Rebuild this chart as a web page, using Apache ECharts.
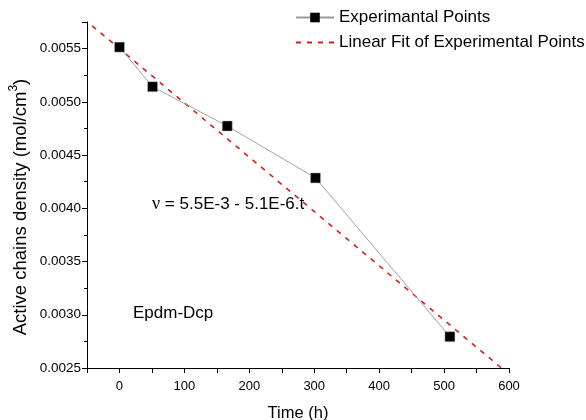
<!DOCTYPE html>
<html>
<head>
<meta charset="utf-8">
<script src="https://cdn.jsdelivr.net/npm/echarts@6/dist/echarts.min.js"></script>
<style>
  html, body { margin: 0; padding: 0; background: #fff; }
  #chart { width: 586px; height: 420px; }
</style>
</head>
<body>
<div id="chart"></div>
<script>
// Measured crosslink density vs. ageing time
const timeHours = [0, 51, 166, 302, 509];
const density = [0.005514, 0.005142, 0.004773, 0.004285, 0.002794];

// Linear fit: v = intercept + slope * t
const fitIntercept = 5.5e-3;
const fitSlope = -5.1e-6;
const fitRange = [-42, 588];

const xTicks = [0, 100, 200, 300, 400, 500, 600];
const yTicks = [0.0025, 0.0030, 0.0035, 0.0040, 0.0045, 0.0050, 0.0055];

const fitPoints = fitRange.map(t => [t, fitIntercept + fitSlope * t]);
const expPoints = timeHours.map((t, i) => [t, density[i]]);

const font = 'Liberation Sans, Arial, sans-serif';
const chart = echarts.init(document.getElementById('chart'), null, { renderer: 'canvas' });

chart.setOption({
  animation: false,
  backgroundColor: '#fff',
  grid: { left: 87, right: 77, top: 22, bottom: 52, containLabel: false, outerBoundsMode: 'none' },
  legend: {
    orient: 'vertical',
    left: 295,
    top: 9,
    padding: 0,
    itemWidth: 38,
    itemHeight: 12,
    itemGap: 8,
    textStyle: { fontFamily: font, fontSize: 17, color: '#000' },
    data: [
      { name: 'Experimantal Points', itemStyle: { borderWidth: 0 } },
      {
        name: 'Linear Fit of Experimental Points',
        itemStyle: { color: 'rgba(0,0,0,0)', borderColor: 'rgba(0,0,0,0)', borderWidth: 0 }
      }
    ]
  },
  xAxis: {
    type: 'value',
    min: -50,
    max: 600,
    interval: 50,
    name: 'Time (h)',
    nameLocation: 'middle',
    nameGap: 37,
    nameTextStyle: { fontFamily: font, fontSize: 16.5, color: '#000' },
    axisLine: { onZero: false, lineStyle: { color: '#000', width: 1 } },
    axisTick: { inside: false, length: 5, lineStyle: { color: '#000' } },
    axisLabel: {
      fontFamily: font, fontSize: 13, color: '#000', margin: 12,
      showMinLabel: true, showMaxLabel: true,
      formatter: v => (xTicks.indexOf(v) >= 0 ? String(v) : '')
    },
    splitLine: { show: false }
  },
  yAxis: {
    type: 'value',
    min: 0.0025,
    max: 0.00575,
    interval: 0.0005,
    axisLine: { show: true, onZero: false, lineStyle: { color: '#000', width: 1 } },
    axisTick: { show: true, inside: false, length: 5, lineStyle: { color: '#000' } },
    minorTick: { show: true, splitNumber: 2, length: 3, lineStyle: { color: '#000' } },
    axisLabel: {
      fontFamily: font, fontSize: 13.5, color: '#000', margin: 6,
      formatter: v => {
        const hit = yTicks.find(t => Math.abs(t - v) < 1e-9);
        return hit === undefined ? '' : hit.toFixed(4);
      }
    },
    splitLine: { show: false }
  },
  graphic: [
    {
      type: 'text',
      x: 19,
      y: 207,
      rotation: Math.PI / 2,
      style: {
        text: '{m|Active chains density (mol/cm}{s|3}{m|)}',
        align: 'center',
        verticalAlign: 'middle',
        rich: {
          m: { fontFamily: font, fontSize: 18.5, fill: '#000', lineHeight: 22, verticalAlign: 'bottom' },
          s: { fontFamily: font, fontSize: 12, fill: '#000', lineHeight: 22, verticalAlign: 'top' }
        }
      }
    },
    {
      type: 'text',
      x: 152,
      y: 204,
      style: {
        text: '{g|ν}{m| = 5.5E-3 - 5.1E-6.t}',
        verticalAlign: 'middle',
        rich: {
          g: { fontFamily: 'Liberation Serif, Times New Roman, serif', fontSize: 18, fill: '#000' },
          m: { fontFamily: font, fontSize: 17, fill: '#000' }
        }
      }
    },
    {
      type: 'text',
      x: 133,
      y: 313,
      style: { text: 'Epdm-Dcp', fontFamily: font, fontSize: 17, fill: '#000', verticalAlign: 'middle' }
    }
  ],
  series: [
    {
      name: 'Experimantal Points',
      type: 'line',
      data: expPoints,
      symbol: 'rect',
      symbolSize: 10,
      itemStyle: { color: '#000', borderColor: '#bbb', borderWidth: 0.5 },
      lineStyle: { color: '#999', width: 0.9 },
      z: 3
    },
    {
      name: 'Linear Fit of Experimental Points',
      type: 'line',
      data: fitPoints,
      symbol: 'none',
      itemStyle: { color: '#dd1c1c' },
      lineStyle: { color: '#dd1c1c', width: 1.6, type: [5, 6] },
      z: 2
    }
  ]
});
</script>
</body>
</html>
